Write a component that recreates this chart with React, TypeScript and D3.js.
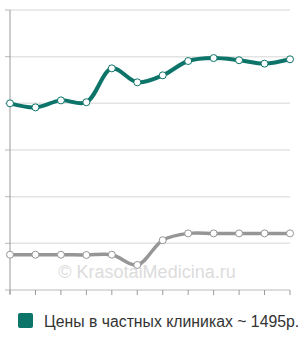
import React from "react";
import * as d3 from "d3";

const categories = ["1", "2", "3", "4", "5", "6", "7", "8", "9", "10", "11", "12"];
const privatePrices = [1200, 1174, 1219, 1207, 1425, 1335, 1380, 1472, 1491, 1477, 1455, 1483];
const publicPrices = [227, 227, 227, 225, 227, 161, 320, 364, 364, 364, 364, 364];
const yTicks = [0, 300, 600, 900, 1200, 1500, 1800];
const legendLabel = "Цены в частных клиниках ~ 1495р.";
const watermark = "© KrasotaiMedicina.ru";

const W = 300;
const H = 340;
const left = 10;
const right = 290;
const top = 10;
const bottom = 290;

export default function App() {
  const x = d3.scalePoint<string>().domain(categories).range([left, right]);
  const y = d3.scaleLinear().domain([0, 1800]).range([bottom, top]);
  const line = d3
    .line<number>()
    .x((_, i) => x(categories[i]) as number)
    .y((d) => y(d))
    .curve(d3.curveCatmullRom.alpha(0.5));

  const teal = "#0d7469";
  const gray = "#969696";

  return (
    <svg
      width={W}
      height={H}
      style={{ position: "absolute", left: 0, top: 0, fontFamily: "'Liberation Sans', Arial, sans-serif" }}
    >
      <rect width={W} height={H} fill="#fff" />
      {yTicks.map((t) => (
        <g key={t}>
          {t > 0 && (
            <line x1={left} x2={right} y1={y(t)} y2={y(t)} stroke="#e3e3e3" strokeWidth={1.5} />
          )}
          <line x1={left - 5} x2={left} y1={y(t)} y2={y(t)} stroke="#bbb" strokeWidth={1} />
        </g>
      ))}
      <text x={147} y={278} fontSize={18} fill="#dcdcdc" textAnchor="middle">
        {watermark}
      </text>
      <line x1={left} x2={left} y1={top} y2={bottom + 4} stroke="#999" strokeWidth={1} />
      <line x1={left} x2={right} y1={bottom} y2={bottom} stroke="#bbb" strokeWidth={1} />
      {categories.map((c) => (
        <line key={c} x1={x(c)} x2={x(c)} y1={bottom} y2={bottom + 5} stroke="#999" strokeWidth={1} />
      ))}
      <path d={line(publicPrices) || ""} fill="none" stroke={gray} strokeWidth={3.5} />
      <path d={line(privatePrices) || ""} fill="none" stroke={teal} strokeWidth={4} />
      {publicPrices.map((v, i) => (
        <circle key={"g" + i} cx={x(categories[i])} cy={y(v)} r={3.5} fill="#fff" stroke={gray} strokeWidth={1} />
      ))}
      {privatePrices.map((v, i) => (
        <circle key={"t" + i} cx={x(categories[i])} cy={y(v)} r={3.5} fill="#fff" stroke={teal} strokeWidth={1} />
      ))}
      <rect x={18} y={313} width={15} height={15} rx={2} fill={teal} />
      <text x={44} y={327} fontSize={15.8} fill="#333">
        {legendLabel}
      </text>
    </svg>
  );
}
